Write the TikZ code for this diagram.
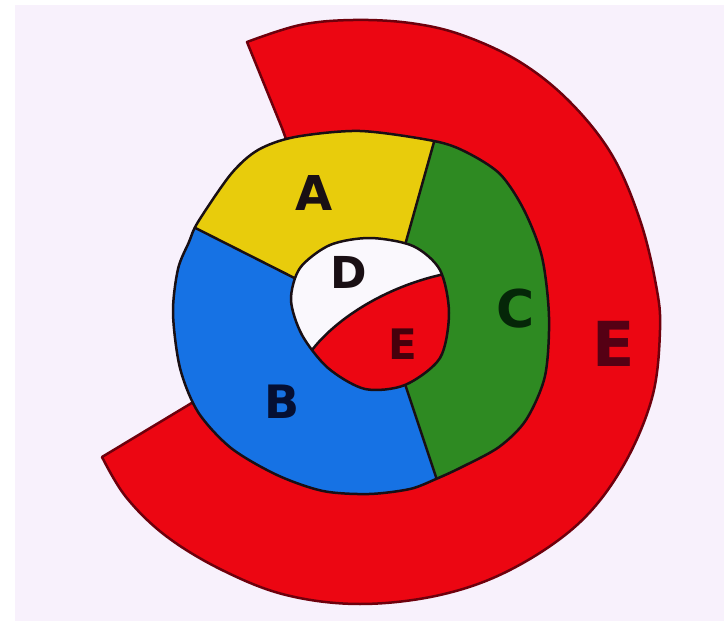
\documentclass[tikz,border=0pt]{standalone}
\usepackage{fontspec}
\setmainfont{DejaVu Sans}
\definecolor{bgc}{RGB}{248,241,252}
\definecolor{redc}{RGB}{236,6,18}
\definecolor{redline}{RGB}{110,0,12}
\definecolor{yelc}{RGB}{232,204,12}
\definecolor{grnc}{RGB}{46,138,34}
\definecolor{bluec}{RGB}{22,114,228}
\definecolor{discw}{RGB}{250,248,253}
\definecolor{outc}{RGB}{25,15,20}
\newcommand{\ringshape}{plot[smooth cycle] coordinates {(198,222) (231,174) (258,150) (295,137) (360,131) (434,141) (466,152) (500,174) (524,210) (542,257) (549,317) (545,376) (526,420) (499,447) (462,467) (436,479) (410,489) (369,494) (323,491) (277,475) (231,448) (198,412) (180,368) (173,313) (178,269) (189,242)}}
\newcommand{\discshape}{plot[smooth cycle] coordinates {(300,268) (330,245) (370,238) (413,246) (440,270) (449,313) (440,358) (405,385) (365,389) (328,368) (302,335) (291,300)}}
\begin{document}
\begin{tikzpicture}[x=1pt,y=-1pt,
  outl/.style={draw=outc, line width=2.5pt, line join=round, line cap=round},
  lbl/.style={font=\bfseries, inner sep=0pt}]
\useasboundingbox (0,0) rectangle (724,621);
\fill[white] (0,0) rectangle (724,621);
\fill[bgc] (15,5) rectangle (724,621);
% outer red band E
\filldraw[fill=redc, draw=redline, line width=2.5pt, line join=round]
  plot[smooth, tension=0.6] coordinates {(247,42) (300,25) (353,20) (410,23) (462,35) (520,62) (570,102) (612,155) (640,220) (656,285) (660,330) (652,398) (622,468) (577,525) (510,570) (440,595) (360,604) (286,595) (222,570) (166,536) (126,497) (102,457)}
  -- (190,404) -- (200,398) -- (300,470) -- (420,465) -- (520,330) -- (480,185) -- (360,150) -- (290,150) -- (282,128) -- cycle;
% ring A B C
\begin{scope}
  \clip \ringshape;
  \fill[bluec] (100,100) rectangle (620,560);
  \fill[yelc] (144,202) -- (330,296) -- (400,263) -- (450,85) -- (144,85) -- cycle;
  \fill[grnc] (400,263) -- (450,85) -- (620,85) -- (620,540) -- (452,525) -- (396,357) -- cycle;
  \draw[outl] (144,202) -- (330,296);
  \draw[outl] (400,263) -- (450,85);
  \draw[outl] (396,357) -- (452,525);
\end{scope}
\draw[outl] \ringshape;
% inner disc D and E
\begin{scope}
  \clip \discshape;
  \fill[discw] (280,220) rectangle (460,400);
  \fill[redc] (305,360) .. controls (330,320) and (390,283) .. (455,272) -- (470,272) -- (470,400) -- (290,400) -- cycle;
  \draw[outl] (305,360) .. controls (330,320) and (390,283) .. (455,272);
\end{scope}
\draw[outl] \discshape;
% labels
\node[lbl, font=\bfseries\fontsize{48}{48}\selectfont, text=outc] (la) at (314,193) {A};
\node[lbl, font=\bfseries\fontsize{44}{44}\selectfont, text=outc] (ld) at (349,272) {D};
\node[lbl, font=\bfseries\fontsize{42}{42}\selectfont, text={rgb,255:red,70;green,0;blue,12}] (le1) at (403,344) {E};
\node[lbl, font=\bfseries\fontsize{52}{52}\selectfont, text={rgb,255:red,5;green,38;blue,8}] (lc) at (516,309) {C};
\node[lbl, font=\bfseries\fontsize{46}{46}\selectfont, text={rgb,255:red,5;green,15;blue,50}] (lb) at (282,402) {B};
\node[lbl, font=\bfseries\fontsize{62}{62}\selectfont, text={rgb,255:red,85;green,0;blue,20}] (le2) at (614,344) {E};
\end{tikzpicture}
\end{document}
